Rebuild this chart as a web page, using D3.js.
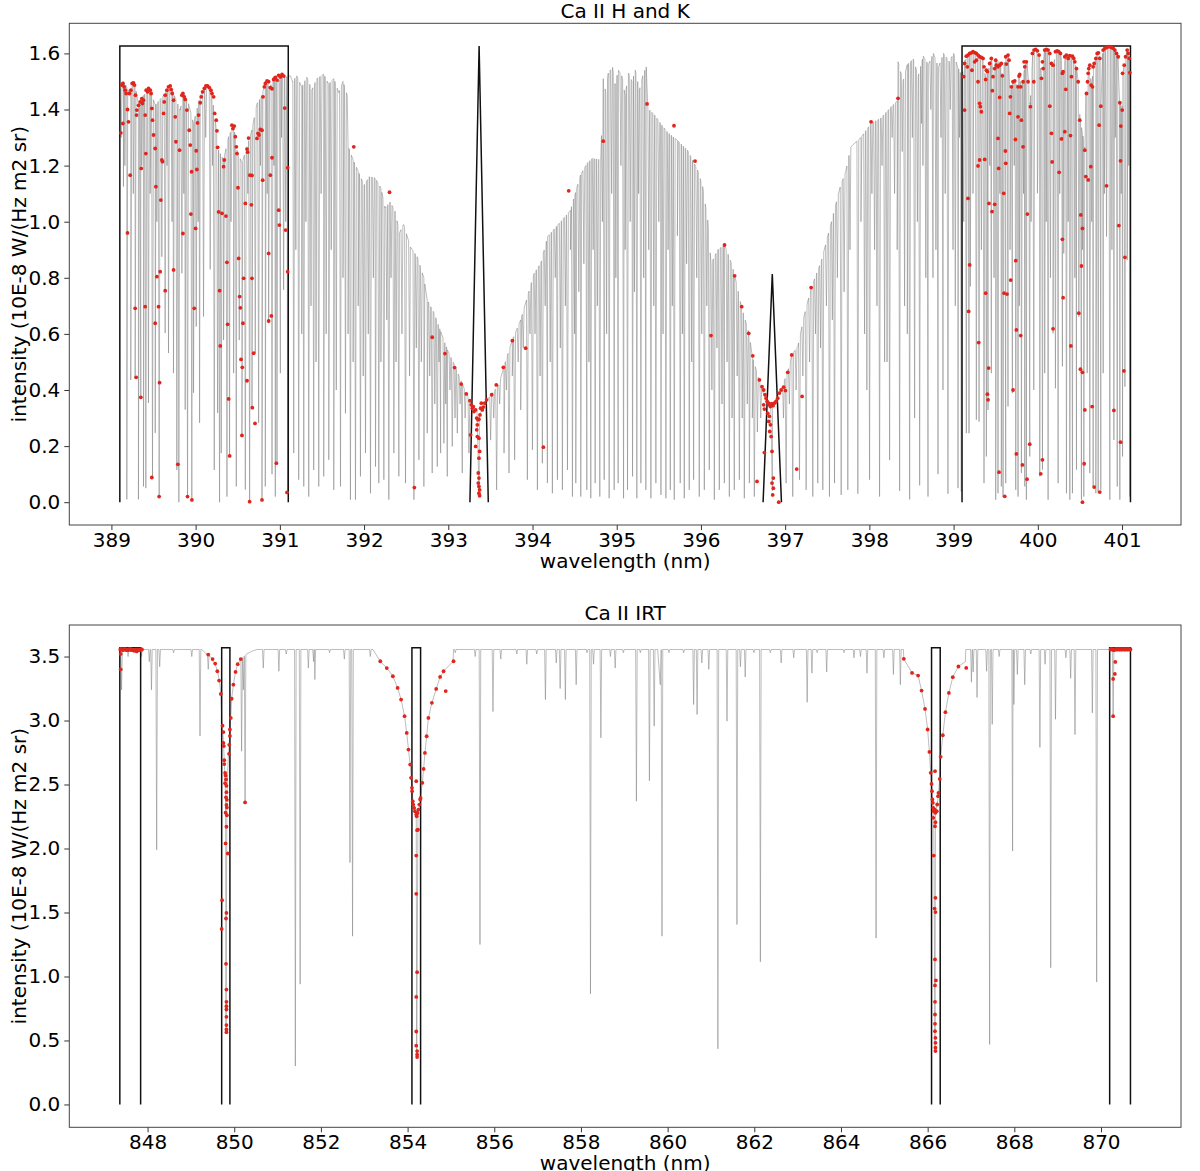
<!DOCTYPE html>
<html>
<head>
<meta charset="utf-8">
<script src="https://cdn.jsdelivr.net/npm/d3@7"></script>
<style>
body { margin: 0; background: #fff; }
svg text { font-family: "DejaVu Sans", sans-serif; }
</style>
</head>
<body>
<svg id="fig" width="1200" height="1171"></svg>
<script>
// ---------- Ca II H and K ----------
var hkBoxes = [[389.1, 391.1], [399.1, 401.1]]
var hkBoxTop = 1.626
// [centre, half base, apex]
var hkTriangles = [[393.366, 0.109, 1.626], [396.847, 0.109, 0.813]]
var hkXTicks = [389, 390, 391, 392, 393, 394, 395, 396, 397, 398, 399, 400, 401]
var hkYTicks = [0, 0.2, 0.4, 0.6, 0.8, 1.0, 1.2, 1.4, 1.6]

// upper edge of the spectrum [nm, intensity]
var hkEnvelope = [[389.10,1.47],[389.143,1.50],[389.183,1.48],[389.23,1.445],[389.254,1.50],[389.28,1.487],[389.32,1.42],[389.38,1.45],[389.46,1.47],[389.52,1.416],[389.618,1.45],[389.70,1.487],[389.76,1.44],[389.817,1.398],[389.856,1.46],[389.916,1.42],[389.975,1.35],[390.055,1.45],[390.134,1.483],[390.193,1.455],[390.233,1.362],[390.272,1.255],[390.332,1.22],[390.392,1.303],[390.451,1.344],[390.49,1.255],[390.55,1.208],[390.609,1.267],[390.669,1.327],[390.728,1.42],[390.788,1.45],[390.827,1.50],[390.887,1.48],[390.926,1.517],[390.986,1.50],[391.025,1.529],[391.085,1.517],[391.125,1.52],[391.15,1.50],[391.20,1.52],[391.26,1.48],[391.32,1.515],[391.38,1.47],[391.44,1.51],[391.52,1.526],[391.58,1.49],[391.64,1.51],[391.70,1.46],[391.75,1.50],[391.80,1.45],[391.81,1.27],[391.87,1.22],[391.93,1.18],[392.00,1.13],[392.06,1.16],[392.13,1.156],[392.20,1.12],[392.25,1.05],[392.31,1.07],[392.37,1.035],[392.42,0.96],[392.47,0.99],[392.55,0.91],[392.63,0.875],[392.71,0.80],[392.75,0.72],[392.83,0.675],[392.91,0.608],[392.99,0.543],[393.09,0.478],[393.17,0.418],[393.27,0.354],[393.37,0.31],[393.45,0.36],[393.60,0.418],[393.66,0.483],[393.76,0.578],[393.86,0.65],[394.02,0.816],[394.10,0.853],[394.18,0.947],[394.30,0.988],[394.45,1.04],[394.57,1.166],[394.65,1.209],[394.71,1.226],[394.81,1.22],[394.84,1.51],[394.87,1.46],[394.90,1.53],[394.95,1.55],[394.98,1.49],[395.02,1.54],[395.06,1.52],[395.10,1.45],[395.14,1.53],[395.18,1.50],[395.22,1.54],[395.27,1.47],[395.31,1.52],[395.35,1.552],[395.37,1.404],[395.45,1.38],[395.52,1.35],[395.60,1.32],[395.72,1.29],[395.84,1.255],[395.96,1.184],[396.02,1.125],[396.08,1.006],[396.12,0.85],[396.20,0.90],[396.28,0.917],[396.36,0.853],[396.40,0.81],[396.48,0.697],[396.57,0.603],[396.61,0.52],[396.69,0.436],[396.75,0.38],[396.85,0.345],[396.95,0.40],[397.03,0.465],[397.08,0.525],[397.15,0.555],[397.23,0.67],[397.31,0.765],[397.43,0.86],[397.55,1.0],[397.65,1.12],[397.72,1.18],[397.78,1.267],[397.90,1.30],[398.02,1.35],[398.14,1.37],[398.26,1.41],[398.33,1.43],[398.34,1.57],[398.40,1.50],[398.45,1.56],[398.52,1.58],[398.58,1.52],[398.64,1.59],[398.70,1.56],[398.76,1.60],[398.82,1.55],[398.88,1.60],[398.95,1.57],[399.00,1.60],[399.05,1.55],[399.10,1.52],[399.13,1.57],[399.16,1.595],[399.23,1.607],[399.29,1.595],[399.35,1.58],[399.38,1.51],[399.41,1.535],[399.45,1.585],[399.47,1.52],[399.50,1.58],[399.56,1.565],[399.58,1.52],[399.62,1.59],[399.65,1.596],[399.67,1.45],[399.70,1.50],[399.73,1.505],[399.76,1.48],[399.78,1.525],[399.80,1.48],[399.82,1.50],[399.85,1.56],[399.87,1.57],[399.89,1.50],[399.91,1.42],[399.94,1.60],[399.975,1.615],[400.02,1.595],[400.045,1.51],[400.08,1.612],[400.11,1.616],[400.16,1.57],[400.18,1.56],[400.23,1.61],[400.27,1.60],[400.30,1.53],[400.33,1.595],[400.37,1.59],[400.42,1.585],[400.46,1.545],[400.48,1.50],[400.50,1.37],[400.56,1.26],[400.57,1.45],[400.61,1.556],[400.64,1.48],[400.66,1.55],[400.71,1.603],[400.74,1.58],[400.75,1.42],[400.77,1.60],[400.84,1.625],[400.90,1.62],[400.95,1.59],[400.97,1.43],[401.00,1.40],[401.01,1.53],[401.06,1.612],[401.09,1.58],[401.10,1.55]]

// absorption lines [nm, minimum intensity, (half width)]
var hkLines = [[389.115,1.30],[389.143,1.125],[389.16,1.2],[389.183,0.01],[389.230,0.436],[389.26,1.1],[389.282,0.44],[389.321,0.01],[389.349,0.377],[389.36,1.2],[389.381,0.056],[389.409,0.05],[389.440,0.354],[389.46,1.1],[389.488,0.092],[389.520,0.247],[389.54,1.0],[389.567,0.02],[389.599,0.875],[389.638,0.603],[389.66,1.2],[389.678,0.532],[389.72,1.0],[389.737,0.46],[389.777,0.115],[389.801,0.0],[389.837,0.816],[389.86,1.1],[389.876,0.33],[389.904,0.02],[389.955,0.01],[389.975,0.39],[390.007,0.626],[390.03,1.0],[390.047,0.283],[390.094,0.662],[390.12,1.3],[390.173,0.83],[390.20,1.2],[390.221,0.115],[390.261,0.318],[390.284,0.0],[390.304,0.175],[390.332,0.578],[390.372,0.02],[390.403,0.164],[390.42,1.0],[390.451,0.46],[390.483,0.056],[390.518,0.578],[390.550,0.24],[390.590,0.045],[390.62,1.1],[390.641,0.0],[390.669,0.341],[390.708,0.532],[390.748,0.283],[390.77,1.2],[390.788,0.01],[390.827,0.056],[390.85,1.1],[390.867,0.638],[390.907,0.10],[390.93,1.2],[390.946,0.02],[390.966,0.145],[391.006,0.46],[391.02,1.3],[391.045,0.757],[391.07,1.0],[391.093,0.04],
  [391.165,0.175],[391.19,0.9],[391.224,0.08],[391.26,0.6],[391.284,0.056],[391.31,1.0],[391.343,0.02],[391.37,0.7],[391.402,0.115],[391.43,0.5],[391.462,0.056],[391.49,1.1],[391.521,0.092],[391.55,0.6],[391.581,0.151],[391.61,0.9],[391.640,0.044],[391.67,0.4],[391.720,0.056],[391.75,0.8],[391.779,0.317],[391.81,0.6],[391.838,0.009],[391.87,0.5],[391.898,0.009],[391.93,0.7],[391.957,0.092],[391.99,0.45],[392.017,0.175],[392.05,0.6],[392.076,0.032],[392.11,0.8],[392.136,0.127],[392.175,0.068],[392.20,0.5],[392.235,0.08],[392.27,0.65],[392.294,0.009],[392.32,0.8],[392.354,0.175],[392.38,0.5],[392.413,0.092],[392.45,0.6],[392.492,0.068],[392.54,0.45],[392.592,0.009],[392.62,0.55],[392.651,0.151],[392.68,0.5],[392.710,0.056],[392.750,0.246],[392.78,0.45],[392.809,0.104],[392.84,0.35],[392.869,0.127],[392.89,0.5],[392.909,0.175],[392.948,0.21],[392.97,0.35],[392.988,0.092],[393.02,0.4],[393.047,0.199],[393.08,0.3],[393.107,0.246],[393.14,0.35],[393.166,0.104],[393.20,0.3],[393.245,0.175],[393.366,0.02,0.025],
  [393.503,0.222],[393.54,0.3],[393.574,0.044],[393.61,0.35],[393.662,0.175],[393.69,0.4],[393.721,0.104],[393.76,0.45],[393.788,0.151],[393.83,0.5],[393.860,0.329],[393.89,0.55],[393.939,0.08],[393.97,0.6],[393.999,0.187],[394.03,0.6],[394.058,0.044],[394.09,0.45],[394.117,0.139],[394.15,0.7],[394.177,0.068],[394.21,0.5],[394.236,0.032],[394.27,0.8],[394.296,0.08],[394.33,0.55],[394.355,0.044],[394.39,0.7],[394.415,0.115],[394.45,0.9],[394.474,0.02],[394.50,0.6],[394.514,0.068],[394.55,0.75],[394.573,0.02],[394.61,0.85],[394.645,0.044],[394.67,0.5],[394.692,0.014],[394.72,0.9],[394.744,0.068],[394.77,0.7],[394.799,0.02],[394.83,1.0],[394.851,0.08],[394.88,0.6],[394.910,0.014],[394.94,1.1],[394.970,0.044],[394.99,0.8],[395.017,0.068],[395.05,1.2],[395.081,0.014],[395.10,0.9],[395.128,0.044],[395.16,1.0],[395.188,0.092],[395.21,0.75],[395.239,0.014],[395.26,1.1],[395.287,0.068],[395.32,0.8],[395.346,0.044],[395.38,0.9],[395.406,0.014],[395.44,0.7],[395.465,0.068],[395.50,1.0],[395.525,0.026],[395.55,0.6],[395.584,0.014],[395.61,0.9],[395.636,0.044],[395.66,0.7],[395.683,0.009],[395.72,0.95],[395.754,0.068],[395.78,0.6],[395.802,0.014],[395.83,0.85],[395.861,0.044],[395.89,0.5],[395.913,0.08],[395.95,0.8],[395.980,0.02],[396.01,0.6],[396.040,0.044],[396.07,0.7],[396.099,0.115],[396.13,0.4],[396.159,0.009],[396.19,0.55],[396.218,0.044],[396.25,0.35],[396.278,0.068],[396.31,0.5],[396.337,0.02],[396.37,0.3],[396.396,0.044],[396.43,0.45],[396.456,0.08],[396.49,0.3],[396.515,0.014],[396.55,0.35],[396.575,0.068],[396.61,0.3],[396.634,0.02],[396.67,0.25],[396.71,0.3],[396.848,0.04,0.02],
  [396.98,0.3],[397.011,0.068],[397.05,0.35],[397.090,0.02],[397.13,0.4],[397.170,0.08],[397.21,0.45],[397.249,0.044],[397.29,0.5],[397.328,0.02],[397.36,0.6],[397.387,0.068],[397.42,0.55],[397.447,0.044],[397.49,0.7],[397.526,0.02],[397.56,0.65],[397.586,0.068],[397.62,0.8],[397.665,0.026],[397.70,0.75],[397.744,0.044],[397.77,0.9],[397.863,0.03],[397.90,1.0],[397.943,0.6],[397.97,0.4],[398.002,0.08],[398.03,1.1],[398.062,0.9],[398.09,0.7],[398.121,0.02],[398.15,1.2],[398.181,0.5],[398.21,0.5],[398.240,0.15],[398.27,1.3],[398.299,1.1],[398.33,0.9],[398.359,0.04],[398.39,1.25],[398.418,0.7],[398.45,0.6],[398.478,0.01],[398.51,1.3],[398.537,0.3],[398.57,1.0],[398.597,0.06],[398.62,1.35],[398.636,1.2],[398.67,0.8],[398.696,0.02],[398.73,1.4],[398.755,0.8],[398.79,0.9],[398.815,0.1],[398.85,1.3],[398.874,0.4],[398.90,1.1],[398.933,0.03],[398.96,1.4],[398.993,0.9],[399.02,0.7],[399.052,0.05],[399.07,1.3],[399.091,0.038],
  [399.12,1.0],[399.151,0.246],[399.183,0.246],[399.198,0.769],[399.23,1.1],[399.270,0.294],[399.302,0.287],[399.33,0.9],[399.361,0.068],[399.389,0.163],[399.409,0.329],[399.43,1.2],[399.448,0.46],[399.48,0.8],[399.500,0.009],[399.527,0.032],[399.55,1.1],[399.567,0.056],[399.587,0.02],[399.619,0.068],[399.646,0.341],[399.67,0.9],[399.698,0.389],[399.72,1.2],[399.738,0.044],[399.765,0.02],[399.78,0.7],[399.805,0.104],[399.83,1.1],[399.845,0.056],[399.864,0.009],[399.904,0.163],[399.92,1.0],[399.952,0.40],[399.995,1.101],[400.00,1.2],[400.023,0.092],[400.055,0.116],[400.082,0.46],[400.10,1.0],[400.122,0.009],[400.15,0.8],[400.181,0.602],[400.209,0.406],[400.241,0.068],[400.26,1.1],[400.292,0.484],[400.308,0.887],[400.340,0.032],[400.36,1.0],[400.380,0.009],[400.411,0.032],[400.44,0.8],[400.459,0.116],[400.487,0.662],[400.518,0.009],[400.53,0.9],[400.546,0.02],[400.586,0.46],[400.617,0.104],[400.64,1.0],[400.657,0.056],[400.689,0.032],[400.70,1.2],[400.716,0.032],[400.748,0.044],[400.776,0.46],[400.79,1.1],[400.816,0.947],[400.855,0.009],[400.88,0.9],[400.903,0.222],[400.92,1.3],[400.943,0.056],[400.974,0.009],[400.99,1.1],[401.006,0.163],[401.034,0.412],[401.061,0.863],[401.08,1.2],[401.093,0.02]]

// red sample points [nm, intensity]
var hkDots = [[389.112,1.317],[389.124,1.487],[389.136,1.493],[389.151,1.481],[389.163,1.469],[389.175,1.457],[389.136,1.350],[389.191,1.400],[389.203,1.356],[389.215,1.457],[389.231,1.469],[389.247,1.493],[389.262,1.495],[389.274,1.487],[389.286,1.451],[389.298,1.380],[389.223,1.166],[389.191,0.960],[389.294,0.445],[389.302,1.398],[389.322,1.415],[389.342,1.427],[389.361,1.439],[389.369,1.421],[389.354,1.190],[389.381,1.433],[389.401,1.380],[389.409,1.243],[389.413,1.469],[389.429,1.463],[389.441,1.475],[389.461,1.469],[389.472,1.457],[389.480,1.404],[389.488,1.362],[389.500,1.309],[389.520,1.261],[389.528,1.125],[389.567,0.020],[389.587,1.077],[389.599,1.220],[389.607,1.214],[389.619,1.386],[389.627,1.427],[389.639,1.451],[389.659,1.469],[389.678,1.481],[389.698,1.484],[389.710,1.471],[389.722,1.457],[389.738,1.433],[389.758,1.374],[389.766,1.285],[389.809,1.255],[389.837,1.451],[389.849,1.457],[389.865,1.445],[389.877,1.436],[389.896,1.398],[389.924,1.326],[389.936,1.273],[389.952,1.178],[389.944,1.027],[389.849,0.958],[389.738,0.828],[389.540,0.804],[389.579,0.822],[389.639,0.754],[389.572,0.426],[389.520,0.638],[389.560,0.697],[389.401,0.697],[389.282,0.691],[389.349,0.374],[389.480,0.088],[389.789,0.135],[389.904,0.020],[389.956,0.008],[389.984,0.691],[390.000,0.976],[390.007,1.253],[390.015,1.186],[390.023,1.352],[390.035,1.380],[390.055,1.424],[390.067,1.445],[390.083,1.463],[390.103,1.475],[390.122,1.484],[390.142,1.484],[390.162,1.478],[390.182,1.469],[390.194,1.457],[390.214,1.445],[390.226,1.386],[390.245,1.362],[390.253,1.324],[390.261,1.265],[390.273,1.035],[390.285,0.754],[390.293,0.557],[390.313,1.030],[390.332,1.196],[390.340,1.220],[390.360,1.020],[390.372,0.855],[390.380,0.634],[390.392,0.368],[390.404,0.165],[390.431,1.344],[390.443,1.332],[390.459,1.341],[390.471,1.303],[390.483,1.267],[390.491,1.243],[390.503,1.121],[390.511,0.869],[390.523,0.733],[390.531,0.693],[390.539,0.509],[390.554,0.481],[390.562,0.638],[390.590,1.065],[390.610,1.259],[390.618,1.248],[390.629,1.298],[390.645,1.166],[390.661,1.060],[390.669,0.798],[390.689,0.531],[390.705,0.281],[390.729,1.297],[390.741,1.315],[390.752,1.309],[390.768,1.329],[390.788,1.326],[390.800,1.445],[390.816,1.481],[390.828,1.493],[390.848,1.502],[390.867,1.499],[390.887,1.478],[390.907,1.474],[390.927,1.507],[390.947,1.514],[390.967,1.505],[390.986,1.522],[391.006,1.516],[391.026,1.525],[391.046,1.519],[391.058,1.405],[391.069,0.970],[390.959,0.139],[390.994,0.988],[390.986,1.041],[390.907,1.228],[390.887,1.166],[390.796,1.148],[390.867,0.887],[390.867,0.646],[390.899,0.664],[390.669,1.165],[390.570,0.798],[390.610,0.433],[390.550,0.238],[390.673,0.337],[390.641,0.002],[390.788,0.008],[391.085,0.035],[391.093,0.822],[391.093,1.192],
  [391.878,1.267],[392.302,1.105],[392.597,0.052],[392.809,0.588],[392.960,0.530],[393.075,0.480],[393.154,0.421],[393.214,0.386],[393.257,0.362],[393.273,0.347],[393.285,0.335],[393.305,0.323],[393.297,0.341],[393.325,0.329],[393.337,0.300],[393.353,0.294],[393.364,0.296],[393.376,0.311],[393.384,0.335],[393.392,0.353],[393.404,0.329],[393.416,0.339],[393.432,0.353],[393.455,0.365],[393.515,0.383],[393.570,0.418],[393.654,0.481],[393.761,0.576],[393.919,0.549],[393.345,0.276],[393.337,0.258],[393.345,0.234],[393.364,0.228],[393.265,0.240],[393.325,0.199],[393.372,0.181],[393.364,0.157],[393.356,0.104],[393.364,0.086],[393.356,0.068],[393.364,0.056],[393.372,0.044],[393.364,0.032],[393.372,0.023],
  [394.129,0.196],[394.43,1.11],[394.84,1.287],[395.36,1.42],[395.68,1.342],[395.93,1.216],[396.119,0.594],[396.28,0.917],
  [396.400,0.807],[396.484,0.697],[396.567,0.602],[396.615,0.522],[396.694,0.436],[396.725,0.412],[396.745,0.400],[396.761,0.383],[396.773,0.371],[396.785,0.359],[396.801,0.353],[396.813,0.347],[396.825,0.341],[396.840,0.351],[396.856,0.344],[396.872,0.353],[396.892,0.359],[396.912,0.371],[396.932,0.389],[396.952,0.400],[396.983,0.410],[397.003,0.398],[397.031,0.463],[397.078,0.525],[397.308,0.765],[396.745,0.347],[396.753,0.332],[396.793,0.317],[396.813,0.306],[396.805,0.288],[396.825,0.276],[396.817,0.252],[396.833,0.234],[396.753,0.177],[396.844,0.181],[396.860,0.086],[396.844,0.068],[396.860,0.050],[396.852,0.026],[396.924,0.0],[396.666,0.074],[397.137,0.118],[397.201,0.377],
  [398.02,1.356],[398.34,1.44],
  [399.131,1.564],[399.151,1.590],[399.171,1.594],[399.191,1.600],[399.210,1.602],[399.230,1.606],[399.250,1.603],[399.270,1.600],[399.290,1.594],[399.309,1.588],[399.329,1.586],[399.349,1.582],[399.119,1.517],[399.131,1.398],[399.163,1.552],[399.171,1.083],[399.191,0.846],[399.179,0.680],[399.218,1.540],[399.250,1.570],[399.270,1.576],[399.290,1.499],[399.309,1.422],[399.317,1.410],[399.329,1.392],[399.309,1.220],[399.290,1.199],[399.298,0.569],[399.369,1.222],[399.381,0.745],[399.361,1.552],[399.389,1.540],[399.401,1.535],[399.381,1.507],[399.428,1.564],[399.448,1.582],[399.468,1.517],[399.500,1.576],[399.488,1.546],[399.508,1.558],[399.527,1.552],[399.547,1.558],[399.567,1.564],[399.547,1.443],[399.527,1.297],[399.535,1.190],[399.460,1.467],[399.416,0.478],[399.401,0.385],[399.409,0.365],[399.420,1.065],[399.456,1.036],[399.488,1.062],[399.619,1.588],[399.646,1.594],[399.658,1.576],[399.627,1.562],[399.579,1.520],[399.666,1.386],[399.674,1.445],[399.686,1.481],[399.706,1.499],[399.726,1.502],[399.765,1.481],[399.777,1.519],[399.785,1.525],[399.797,1.481],[399.734,1.293],[399.738,0.861],[399.615,1.252],[399.619,1.208],[399.595,1.101],[399.599,0.745],[399.634,0.742],[399.678,0.792],[399.706,0.400],[399.745,0.614],[399.797,0.594],[399.825,1.267],[399.805,1.362],[399.765,1.374],[399.825,1.499],[399.845,1.552],[399.864,1.570],[399.884,1.499],[399.837,1.570],[399.912,1.410],[399.876,1.027],[399.745,0.172],[399.817,0.133],[399.872,0.082],[399.904,0.207],[399.539,0.107],[399.607,0.021],[399.936,1.600],[399.955,1.612],[399.975,1.614],[399.995,1.609],[400.015,1.594],[399.952,1.499],[400.043,1.511],[400.055,1.570],[400.063,1.546],[400.082,1.612],[400.102,1.614],[400.122,1.612],[400.142,1.600],[400.162,1.564],[400.181,1.558],[400.142,1.412],[400.162,1.315],[400.170,1.213],[400.181,0.618],[400.055,0.151],[400.035,0.101],[400.209,1.606],[400.229,1.609],[400.249,1.606],[400.269,1.600],[400.300,1.535],[400.292,1.529],[400.320,1.588],[400.340,1.594],[400.360,1.582],[400.332,1.472],[400.320,1.321],[400.281,1.295],[400.292,0.937],[400.300,0.729],[400.253,1.176],[400.380,1.592],[400.411,1.590],[400.427,1.582],[400.439,1.570],[400.459,1.546],[400.399,1.517],[400.388,1.307],[400.392,0.557],[400.479,1.499],[400.498,1.362],[400.510,1.024],[400.530,0.976],[400.518,0.842],[400.487,0.674],[400.506,0.474],[400.530,0.463],[400.558,0.329],[400.550,0.137],[400.530,0.0],[400.558,1.255],[400.570,1.161],[400.598,1.149],[400.629,1.196],[400.578,1.457],[400.590,1.499],[400.598,1.529],[400.605,1.546],[400.617,1.558],[400.633,1.487],[400.649,1.481],[400.657,1.552],[400.669,1.564],[400.689,1.582],[400.705,1.600],[400.720,1.602],[400.736,1.582],[400.728,1.344],[400.748,1.412],[400.645,0.341],[400.669,0.054],[400.736,0.036],[400.776,1.612],[400.796,1.618],[400.816,1.621],[400.835,1.624],[400.855,1.624],[400.875,1.621],[400.895,1.618],[400.915,1.612],[400.934,1.600],[400.954,1.588],[400.816,1.128],[400.903,0.327],[400.962,0.986],[400.982,1.217],[400.974,1.424],[401.002,1.398],[400.986,1.341],[401.006,1.529],[401.026,1.558],[401.042,1.588],[401.061,1.612],[401.073,1.600],[401.085,1.582],[401.093,1.531],[401.034,0.873],[401.022,0.468],[400.982,0.214]]

// ---------- Ca II IRT ----------
var irtBoxes = [[847.36, 847.84], [849.71, 849.90], [854.10, 854.30], [866.09, 866.29], [870.20, 870.68]]
var irtBoxTop = 3.568
var irtXTicks = [848, 850, 852, 854, 856, 858, 860, 862, 864, 866, 868, 870]
var irtYTicks = [0, 0.5, 1.0, 1.5, 2.0, 2.5, 3.0, 3.5]

var irtEnvelope = [[847.36,3.555],[849.25,3.555],[849.36,3.52],[849.48,3.49],[849.55,3.45],[849.61,3.39],[849.66,3.31],[849.69,3.21],[849.72,2.96],[849.75,2.85],[849.78,2.60],[849.80,2.40],[849.83,2.40],[849.86,2.70],[849.90,2.90],[849.92,3.02],[849.94,3.17],[849.98,3.28],[850.03,3.38],[850.08,3.44],[850.15,3.48],[850.29,3.52],[850.40,3.54],[850.52,3.555],[853.20,3.555],[853.37,3.463],[853.52,3.41],[853.66,3.346],[853.77,3.255],[853.85,3.164],[853.93,3.034],[853.98,2.903],[854.02,2.773],[854.06,2.656],[854.10,2.47],[854.14,2.33],[854.20,2.26],[854.26,2.30],[854.30,2.40],[854.34,2.513],[854.37,2.622],[854.40,2.747],[854.44,2.877],[854.48,3.02],[854.56,3.138],[854.66,3.247],[854.75,3.341],[854.83,3.385],[855.05,3.463],[855.06,3.555],[865.44,3.555],[865.45,3.482],[865.64,3.372],[865.78,3.351],[865.86,3.234],[865.94,3.091],[866.00,2.93],[866.04,2.755],[866.07,2.59],[866.10,2.45],[866.13,2.32],[866.18,2.28],[866.22,2.34],[866.25,2.435],[866.28,2.544],[866.30,2.716],[866.35,2.885],[866.41,3.065],[866.49,3.216],[866.58,3.339],[866.71,3.422],[866.87,3.46],[866.88,3.555],[870.68,3.555]]

var irtLines = [[847.40,3.24],[847.55,3.50],[847.86,3.50],[848.04,3.46],[848.09,3.24],[848.21,1.99],[848.28,3.42],[848.60,3.53],[849.02,3.50],[849.21,2.88],[849.40,3.40],[849.81,0.55,0.03],[850.17,2.76],[850.21,3.24],[850.25,2.36],[850.67,3.41],[851.03,3.385],[851.20,3.52],[851.41,0.30],[851.52,0.94],[851.71,3.41],[851.83,3.46],[851.86,3.32],[852.20,3.53],[852.54,3.48],[852.67,1.89],[852.73,1.315],[853.14,3.50],[854.21,0.37,0.03],[855.10,3.53],[855.56,3.50],[855.67,1.25],[855.97,3.07],[856.15,3.48],[856.52,3.52],[856.75,3.44],[856.98,3.52],[857.18,3.164],[857.43,3.45],[857.52,3.25],[857.64,3.164],[857.89,3.28],[858.14,3.53],[858.22,0.865],[858.29,3.44],[858.46,2.865],[858.68,3.50],[858.79,3.41],[858.98,3.53],[859.28,2.37],[859.37,3.53],[859.58,2.53],[859.69,2.956],[859.83,3.28,0.06],[859.87,1.315],[860.03,3.53],[860.37,3.53],[860.60,3.125],[860.68,3.047],[860.79,3.45],[860.95,3.40],[861.16,0.435],[861.37,2.995],[861.60,1.406],[861.68,3.42],[861.79,3.34],[861.99,3.53],[862.14,1.115],[862.37,3.53],[862.62,3.45],[862.91,3.49],[863.22,3.143],[863.33,3.37],[863.45,3.53],[863.67,3.38],[864.07,3.53],[864.30,3.49],[864.45,3.50],[864.60,3.37],[864.81,1.30],[864.99,3.49],[865.21,3.36],[865.37,3.28],[866.17,0.42,0.03],[867.01,3.30],[867.05,3.38],[867.14,3.18],[867.36,3.385],[867.43,0.469],[867.49,2.97],[867.65,3.50],[867.96,1.98],[867.99,3.125],[868.07,3.36],[868.24,3.28],[868.38,3.52],[868.59,2.79],[868.71,3.44],[868.84,1.068],[868.95,3.01],[869.19,3.49],[869.30,3.33],[869.40,2.89],[869.80,3.06],[869.90,0.956],[870.28,3.03]]

var irtDots = [[847.37,3.555],[847.39,3.56],[847.41,3.555],[847.43,3.55],[847.45,3.555],[847.47,3.56],[847.49,3.555],[847.51,3.55],[847.53,3.555],[847.55,3.55],[847.57,3.555],[847.59,3.56],[847.61,3.555],[847.63,3.55],[847.65,3.555],[847.67,3.55],[847.69,3.545],[847.71,3.55],[847.73,3.555],[847.75,3.54],[847.77,3.55],[847.79,3.555],[847.81,3.55],[847.84,3.555],[847.87,3.555],[847.38,3.40],[847.38,3.52],
  [849.40,3.515],[849.50,3.48],[849.56,3.445],[849.61,3.385],[849.65,3.312],[849.69,3.208],[849.73,2.96],[849.75,2.91],[849.75,2.825],[849.76,2.80],[849.77,2.69],[849.77,2.66],[849.79,2.59],[849.80,2.57],[849.81,2.54],[849.79,2.51],[849.82,2.49],[849.82,2.44],[849.81,2.40],[849.83,2.38],[849.82,2.34],[849.83,2.32],[849.80,2.28],[849.83,2.26],[849.82,2.17],[849.80,2.04],[849.85,1.961],[849.72,1.596],[849.82,1.497],[849.81,1.453],[849.71,1.372],[849.81,1.099],[849.82,0.898],[849.82,0.802],[849.82,0.768],[849.82,0.742],[849.82,0.685],[849.82,0.62],[849.82,0.586],[849.82,0.565],[849.88,2.74],[849.885,2.81],[849.90,2.88],[849.90,2.93],[849.92,3.02],[849.94,3.17],[849.98,3.28],[850.03,3.38],[850.08,3.44],[850.15,3.48],[850.25,2.36],
  [853.37,3.463],[853.52,3.41],[853.66,3.346],[853.77,3.255],[853.85,3.164],[853.93,3.034],[853.98,2.903],[854.02,2.773],[854.06,2.656],[854.08,2.552],[854.10,2.474],[854.105,2.448],[854.12,2.369],[854.13,2.343],[854.15,2.317],[854.17,2.291],[854.20,2.265],[854.21,2.252],[854.23,2.278],[854.25,2.304],[854.27,2.343],[854.29,2.383],[854.30,2.395],[854.20,2.526],[854.24,2.148],[854.22,2.143],[854.20,1.945],[854.20,1.646],[854.22,1.034],[854.20,0.84],[854.20,0.57],[854.20,0.459],[854.22,0.417],[854.22,0.39],[854.22,0.37],[854.34,2.513],[854.37,2.622],[854.40,2.747],[854.44,2.877],[854.48,3.02],[854.56,3.138],[854.66,3.247],[854.75,3.341],[854.83,3.385],[854.88,3.23],[855.06,3.463],
  [865.45,3.482],[865.64,3.372],[865.78,3.351],[865.86,3.234],[865.94,3.091],[866.00,2.93],[866.04,2.755],[866.07,2.591],[866.09,2.505],[866.10,2.448],[866.11,2.383],[866.12,2.357],[866.13,2.318],[866.14,2.292],[866.16,2.305],[866.18,2.279],[866.21,2.292],[866.22,2.344],[866.24,2.409],[866.25,2.435],[866.28,2.544],[866.17,2.604],[866.13,2.24],[866.18,2.206],[866.17,2.174],[866.14,1.945],[866.18,1.615],[866.16,1.531],[866.18,1.503],[866.17,1.133],[866.19,0.969],[866.17,0.93],[866.17,0.802],[866.17,0.703],[866.17,0.63],[866.17,0.573],[866.18,0.521],[866.18,0.482],[866.18,0.443],[866.18,0.417],[866.30,2.716],[866.35,2.885],[866.41,3.065],[866.49,3.216],[866.58,3.339],[866.71,3.422],[866.89,3.411],
  [870.22,3.555],[870.24,3.56],[870.26,3.555],[870.28,3.555],[870.30,3.55],[870.32,3.555],[870.34,3.56],[870.36,3.555],[870.38,3.555],[870.40,3.56],[870.42,3.555],[870.44,3.555],[870.46,3.56],[870.48,3.555],[870.50,3.555],[870.52,3.56],[870.54,3.555],[870.56,3.555],[870.58,3.56],[870.60,3.555],[870.62,3.555],[870.64,3.56],[870.66,3.555],[870.68,3.555],[870.33,3.458],[870.32,3.364],[870.28,3.325],[870.28,3.034]]

var svg = d3.select('#fig')
var FONT = 20

function spectrumPoints(envelope, lines, halfWidth) {
    // envelope as a piecewise linear scale, each line dips down from it
    let env = d3.scaleLinear()
        .domain(envelope.map(d => d[0]))
        .range(envelope.map(d => d[1]))
        .clamp(true)
    let pts = envelope.map(d => [d[0], d[1]])
    lines.forEach(function(l) {
        let hw = l.length > 2 ? l[2] : halfWidth
        pts.push([l[0] - hw, env(l[0] - hw)])
        pts.push([l[0], Math.min(l[1], env(l[0]))])
        pts.push([l[0] + hw, env(l[0] + hw)])
    })
    pts.sort((a, b) => a[0] - b[0])
    return pts
}

function drawPanel(p) {
    let lo = d3.min(p.boxes, d => d[0])
    let hi = d3.max(p.boxes, d => d[1])
    let xPad = (hi - lo) * 0.05
    let yPad = p.boxTop * 0.05
    let x = d3.scaleLinear().domain([lo - xPad, hi + xPad]).range([p.left, p.right])
    let y = d3.scaleLinear().domain([-yPad, p.boxTop + yPad]).range([p.bottom, p.top])

    svg.append('clipPath').attr('id', 'clip-' + p.id)
        .append('rect')
        .attr('x', p.left).attr('y', p.top)
        .attr('width', p.right - p.left).attr('height', p.bottom - p.top)

    let g = svg.append('g').attr('clip-path', 'url(#clip-' + p.id + ')')
    let line = d3.line().x(d => x(d[0])).y(d => y(d[1]))

    // spectrum
    g.append('path')
        .datum(spectrumPoints(p.envelope, p.lines, p.halfWidth))
        .attr('d', line)
        .attr('fill', 'none')
        .attr('stroke', '#808080')
        .attr('stroke-opacity', 0.58)
        .attr('stroke-width', 0.9)

    // bandpasses
    let shapes = p.boxes.map(b => [[b[0], 0], [b[0], p.boxTop], [b[1], p.boxTop], [b[1], 0]])
    ;(p.triangles || []).forEach(function(t) {
        shapes.push([[t[0] - t[1], 0], [t[0], t[2]], [t[0] + t[1], 0]])
    })
    g.selectAll('.band')
        .data(shapes)
        .enter()
        .append('path')
        .attr('class', 'band')
        .attr('d', line)
        .attr('fill', 'none')
        .attr('stroke', '#111')
        .attr('stroke-width', 1.5)

    // sampled points
    g.selectAll('.dot')
        .data(p.dots)
        .enter()
        .append('circle')
        .attr('class', 'dot')
        .attr('cx', d => x(d[0]))
        .attr('cy', d => y(d[1]))
        .attr('r', 1.9)
        .attr('fill', '#e0261c')

    // axes
    let xAxis = svg.append('g')
        .attr('transform', 'translate(0,' + p.bottom + ')')
        .call(d3.axisBottom(x).tickValues(p.xTicks).tickFormat(d3.format('d')).tickSize(5).tickPadding(3))
    let yAxis = svg.append('g')
        .attr('transform', 'translate(' + p.left + ',0)')
        .call(d3.axisLeft(y).tickValues(p.yTicks).tickFormat(d3.format('.1f')).tickSize(5).tickPadding(4))
    ;[xAxis, yAxis].forEach(function(a) {
        a.select('.domain').remove()
        a.selectAll('line').attr('stroke', '#333')
        a.selectAll('text').attr('font-size', FONT).attr('fill', '#000')
            .attr('font-family', '"DejaVu Sans", sans-serif')
    })

    svg.append('rect')
        .attr('x', p.left).attr('y', p.top)
        .attr('width', p.right - p.left).attr('height', p.bottom - p.top)
        .attr('fill', 'none').attr('stroke', '#444').attr('stroke-width', 1)

    let cx = (p.left + p.right) / 2
    svg.append('text').attr('x', cx).attr('y', p.top - 5)
        .attr('text-anchor', 'middle').attr('font-size', FONT).text(p.title)
    svg.append('text').attr('x', cx).attr('y', p.bottom + 43)
        .attr('text-anchor', 'middle').attr('font-size', FONT).text('wavelength (nm)')
    svg.append('text')
        .attr('transform', 'translate(26,' + ((p.top + p.bottom) / 2) + ') rotate(-90)')
        .attr('text-anchor', 'middle').attr('font-size', FONT)
        .text('intensity (10E-8 W/(Hz m2 sr)')
}

drawPanel({
    id: 'hk', title: 'Ca II H and K',
    left: 69.3, right: 1181, top: 23.3, bottom: 525,
    boxes: hkBoxes, boxTop: hkBoxTop, triangles: hkTriangles,
    envelope: hkEnvelope, lines: hkLines, halfWidth: 0.011, dots: hkDots,
    xTicks: hkXTicks, yTicks: hkYTicks
})

drawPanel({
    id: 'irt', title: 'Ca II IRT',
    left: 69.3, right: 1181, top: 625, bottom: 1127.3,
    boxes: irtBoxes, boxTop: irtBoxTop,
    envelope: irtEnvelope, lines: irtLines, halfWidth: 0.018, dots: irtDots,
    xTicks: irtXTicks, yTicks: irtYTicks
})
</script>
</body>
</html>
